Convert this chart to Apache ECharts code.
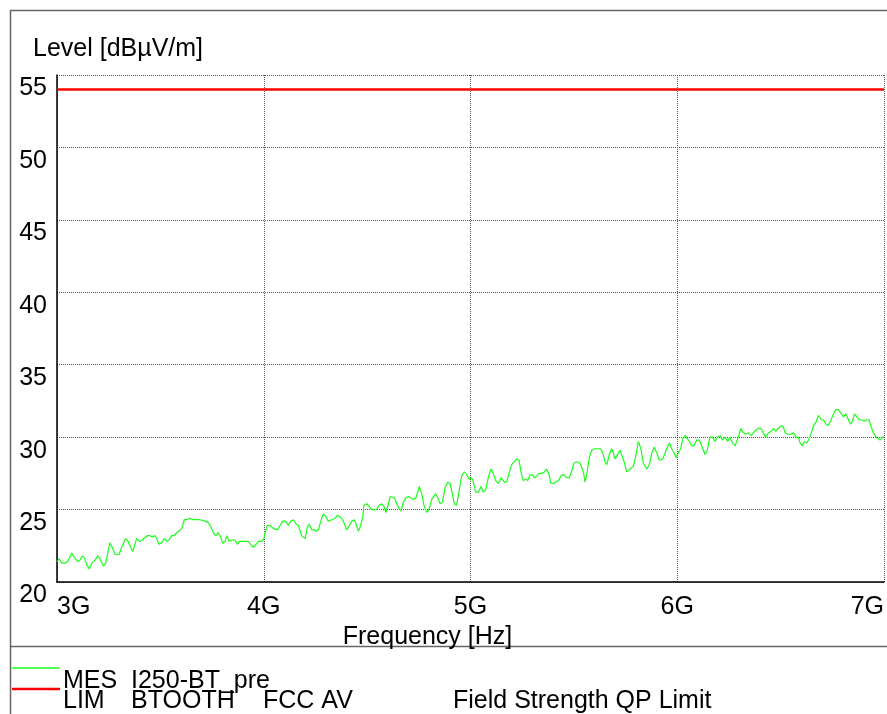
<!DOCTYPE html>
<html>
<head>
<meta charset="utf-8">
<script src="https://cdn.jsdelivr.net/npm/echarts@6/dist/echarts.min.js"></script>
<style>
html,body{margin:0;padding:0;background:#fff;}
#chart{width:887px;height:714px;}
</style>
</head>
<body>
<div id="chart"></div>
<script>
// Axis ticks
var xTicksMHz = [3000, 4000, 5000, 6000, 7000];
var yTicks = [20, 25, 30, 35, 40, 45, 50, 55];

// Measured trace "MES I250-BT_pre" [frequency MHz, level dBµV/m], split by band
var mesBand1 = [[3000,21.4],[3010,21.6],[3023,21.3],[3042,21.3],[3055,21.5],[3071,22.0],[3084,21.7],[3100,21.4],[3111,21.5],[3122,21.8],[3132,21.7],[3144,21.2],[3156,20.9],[3168,21.3],[3184,21.5],[3197,21.8],[3208,21.6],[3224,21.1],[3236,21.3],[3248,22.2],[3256,22.7],[3267,22.4],[3281,21.9],[3300,21.9],[3313,22.4],[3332,23.0],[3345,22.8],[3356,22.4],[3366,22.1],[3377,22.6],[3385,23.0],[3393,23.1],[3401,22.8],[3413,22.9],[3426,23.1],[3439,23.2],[3450,23.2],[3461,23.1],[3474,23.2],[3482,23.0],[3493,22.6],[3506,22.7],[3519,23.0],[3531,22.8],[3542,22.9],[3555,23.2],[3567,23.2],[3579,23.4],[3590,23.5],[3603,23.7],[3616,24.3],[3627,24.3],[3643,24.4],[3659,24.3],[3676,24.3],[3692,24.3],[3716,24.2],[3732,24.1],[3745,23.8],[3756,23.4],[3768,23.2],[3780,23.4],[3792,23.1],[3801,22.7],[3813,22.8]];
var mesBand2 = [[3821,23.2],[3833,22.8],[3850,22.9],[3861,22.9],[3872,22.6],[3882,22.8],[3901,22.8],[3925,22.8],[3937,22.6],[3950,22.4],[3963,22.6],[3974,22.8],[3990,22.8],[4001,23.0],[4006,23.4],[4017,23.9],[4030,23.9],[4046,23.7],[4066,23.6],[4079,23.9],[4092,24.2],[4106,24.2],[4119,23.9],[4130,24.2],[4143,24.3],[4156,24.0],[4167,23.9],[4183,23.2],[4200,23.0],[4211,23.8],[4220,24.0],[4232,23.6],[4243,23.6],[4253,23.5],[4264,23.6],[4276,24.2],[4288,24.7],[4301,24.5],[4312,24.2],[4329,24.3],[4345,24.4],[4356,24.6],[4369,24.5],[4382,24.3],[4393,23.9],[4401,23.6],[4414,23.9],[4426,24.2],[4437,24.3],[4447,24.0],[4458,23.5],[4469,23.9],[4479,24.5],[4485,25.3],[4498,25.4],[4511,25.2],[4522,25.0],[4533,25.0],[4546,25.0],[4559,25.3],[4571,25.4],[4582,25.2],[4591,24.8],[4603,25.4],[4611,25.9]];
var mesBand3 = [[4619,25.9],[4632,25.8],[4643,25.4],[4654,25.1],[4664,24.9],[4675,25.5],[4687,25.8],[4699,25.9],[4712,25.8],[4723,25.7],[4735,25.8],[4745,26.2],[4752,26.6],[4764,26.1],[4775,25.3],[4788,24.8],[4799,25.0],[4812,25.7],[4820,25.8],[4832,26.1],[4841,26.0],[4853,25.4],[4864,25.5],[4877,26.5],[4890,26.9],[4901,26.8],[4912,26.1],[4922,25.4],[4933,25.3],[4944,26.2],[4957,27.3],[4970,27.6],[4982,27.4],[4993,27.1],[5006,27.2],[5014,26.9],[5025,26.2],[5038,26.2],[5051,26.6],[5062,26.2],[5074,26.4],[5086,27.2],[5099,27.8],[5110,27.5],[5122,27.0],[5135,26.8],[5148,27.2],[5154,27.3],[5164,26.9],[5175,26.9],[5186,27.5],[5199,28.1],[5212,28.3],[5223,28.5],[5235,28.4],[5244,27.6],[5255,27.0],[5267,27.1],[5277,27.0],[5288,27.4],[5299,27.4],[5309,27.2],[5320,27.3],[5331,27.5],[5344,27.5],[5357,27.6],[5368,27.8],[5380,27.4],[5389,26.8],[5401,26.8],[5409,26.9]];
var mesBand4 = [[5425,27.0],[5441,27.4],[5452,27.4],[5465,27.2],[5478,27.2],[5490,27.7],[5501,28.2],[5514,28.3],[5530,28.2],[5538,28.1],[5546,27.6],[5554,26.9],[5562,27.4],[5575,28.6],[5586,29.1],[5602,29.2],[5618,29.2],[5630,29.2],[5640,28.9],[5651,28.3],[5659,28.1],[5672,28.8],[5683,29.2],[5691,28.9],[5699,28.5],[5707,28.6],[5723,29.1],[5732,29.0],[5743,28.3],[5756,27.6],[5772,27.8],[5788,28.0],[5801,28.8],[5812,29.7],[5824,29.2],[5836,28.2],[5853,27.8],[5865,28.1],[5877,28.9],[5889,29.3],[5901,28.9],[5914,28.4],[5930,28.5],[5941,28.9],[5952,29.3],[5962,29.6],[5973,29.2],[5985,28.9],[5994,28.6],[6005,28.9],[6017,29.2],[6027,29.9],[6038,30.1],[6046,30.1],[6059,29.7],[6070,29.4],[6081,29.4],[6094,29.8],[6107,29.8],[6118,29.4],[6134,28.8],[6145,29.1],[6158,30.0],[6170,30.0],[6183,29.7],[6194,30.0],[6208,30.1]];
var mesBand5 = [[6218,29.8],[6231,30.0],[6244,29.7],[6255,30.0],[6267,29.6],[6280,29.4],[6288,29.4],[6295,30.0],[6308,30.6],[6320,30.3],[6331,30.2],[6344,30.3],[6357,30.1],[6368,30.3],[6380,30.5],[6392,30.6],[6405,30.6],[6416,30.3],[6428,30.0],[6441,30.3],[6454,30.4],[6465,30.6],[6477,30.4],[6489,30.6],[6502,30.8],[6513,30.7],[6522,30.3],[6535,30.2],[6551,30.2],[6562,30.3],[6573,30.0],[6586,30.0],[6594,29.6],[6605,29.4],[6615,29.7],[6627,29.6],[6638,29.9],[6651,30.4],[6659,30.8],[6670,31.0],[6683,31.5],[6696,31.2],[6707,31.2],[6719,30.9],[6731,30.8],[6744,31.2],[6756,31.6],[6767,31.9],[6780,31.9],[6793,31.6],[6804,31.4],[6815,31.6],[6825,31.3],[6837,30.9],[6848,31.1],[6857,31.6],[6869,31.4],[6880,31.2],[6892,31.2],[6905,31.1],[6917,31.2],[6928,31.2],[6938,30.7],[6949,30.3],[6961,30.0],[6970,30.0],[6981,29.8],[6992,30.0],[7000,30.0]];

// Limit line "LIM BTOOTH FCC AV"
var limitFreq = [3000, 7000];
var limitLevel = [54, 54];

var mesData = mesBand1.concat(mesBand2, mesBand3, mesBand4, mesBand5);
var limData = limitFreq.map(function (f, i) { return [f, limitLevel[i]]; });

var FONT = "'Liberation Sans', Arial, sans-serif";
var FS = 25;
var chart = echarts.init(document.getElementById('chart'), null, {renderer: 'canvas'});

var gridStyle = {show: true, lineStyle: {color: '#555', width: 1, type: [1, 1]}};

chart.setOption({
  animation: false,
  backgroundColor: '#ffffff',
  grid: {left: 57, right: 3, top: 75, bottom: 132, containLabel: false},
  xAxis: {
    type: 'value',
    min: xTicksMHz[0], max: xTicksMHz[xTicksMHz.length - 1], interval: 1000,
    axisLine: {show: true, lineStyle: {color: '#000', width: 1.5}},
    axisTick: {show: false},
    splitLine: gridStyle,
    axisLabel: {
      fontFamily: FONT, fontSize: FS, color: '#000', margin: 13,
      alignMinLabel: 'left', alignMaxLabel: 'right',
      formatter: function (v) { return (v / 1000) + 'G'; }
    },
    name: 'Frequency [Hz]', nameLocation: 'middle', nameGap: 42,
    nameTextStyle: {fontFamily: FONT, fontSize: FS, color: '#000', padding: [0, 86, 0, 0]}
  },
  yAxis: {
    type: 'value',
    min: yTicks[0], max: yTicks[yTicks.length - 1], interval: 5,
    axisLine: {show: true, lineStyle: {color: '#000', width: 1.5}},
    axisTick: {show: false},
    splitLine: gridStyle,
    axisLabel: {
      fontFamily: FONT, fontSize: FS, color: '#000', margin: 10,
      verticalAlign: 'top', lineHeight: 27
    }
  },
  series: [
    {
      name: 'MES', type: 'line', data: mesData, showSymbol: false,
      lineStyle: {color: '#1aff1a', width: 1.2}, z: 3
    },
    {
      name: 'LIM', type: 'line', data: limData, showSymbol: false,
      lineStyle: {color: '#ff0000', width: 2.5}, z: 4
    }
  ],
  graphic: [
    {type: 'line', shape: {x1: 10, y1: 10.5, x2: 887, y2: 10.5}, style: {stroke: '#666', lineWidth: 1.5}},
    {type: 'line', shape: {x1: 10.5, y1: 10, x2: 10.5, y2: 714}, style: {stroke: '#666', lineWidth: 1.5}},
    {type: 'line', shape: {x1: 10, y1: 646.5, x2: 887, y2: 646.5}, style: {stroke: '#666', lineWidth: 1.5}},
    {type: 'text', left: 33, top: 37, style: {text: 'Level [dBµV/m]', font: FS + 'px ' + FONT, fill: '#000'}},
    {type: 'line', shape: {x1: 12, y1: 668, x2: 60, y2: 668}, style: {stroke: '#1aff1a', lineWidth: 1.5}},
    {type: 'line', shape: {x1: 12, y1: 689, x2: 60, y2: 689}, style: {stroke: '#ff0000', lineWidth: 2.5}},
    {type: 'text', left: 63, top: 669, style: {text: 'MES', font: FS + 'px ' + FONT, fill: '#000'}},
    {type: 'text', left: 131, top: 669, style: {text: 'I250-BT_pre', font: FS + 'px ' + FONT, fill: '#000'}},
    {type: 'text', left: 63, top: 689, style: {text: 'LIM', font: FS + 'px ' + FONT, fill: '#000'}},
    {type: 'text', left: 131, top: 689, style: {text: 'BTOOTH', font: FS + 'px ' + FONT, fill: '#000'}},
    {type: 'text', left: 263, top: 689, style: {text: 'FCC AV', font: FS + 'px ' + FONT, fill: '#000'}},
    {type: 'text', left: 453, top: 689, style: {text: 'Field Strength QP Limit', font: FS + 'px ' + FONT, fill: '#000'}}
  ]
});
</script>
</body>
</html>
